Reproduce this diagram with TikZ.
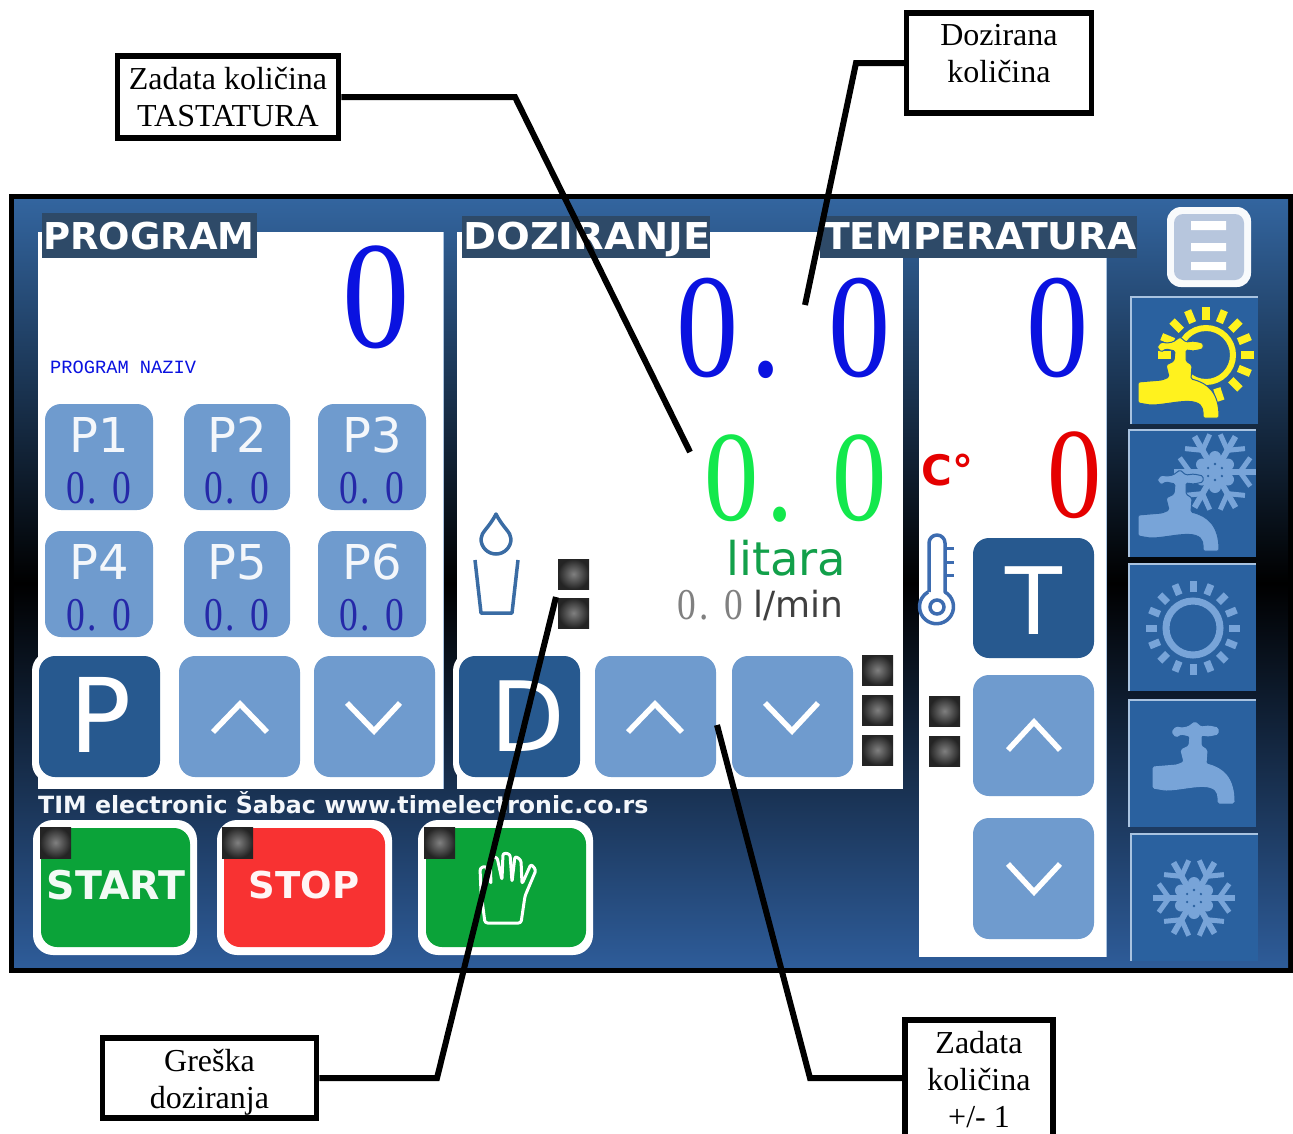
\documentclass[tikz,border=0pt]{standalone}
\usepackage{graphicx}
\usepackage{fontspec}
\setmainfont{Liberation Serif}
\newfontfamily\dv{DejaVu Sans}
\newfontfamily\lm{Liberation Mono}
\newcommand\fnt[1]{\fontsize{#1}{#1}\selectfont}
\definecolor{bgtop}{HTML}{33659F}
\definecolor{bgbot}{HTML}{2E5C99}
\definecolor{btn}{HTML}{6F9BCE}
\definecolor{btndark}{HTML}{27598F}
\definecolor{tile}{HTML}{2A619F}
\definecolor{tileline}{HTML}{A9C3E0}
\definecolor{icon}{HTML}{78A4D8}
\definecolor{lab}{HTML}{2E4A68}
\definecolor{sun}{HTML}{FFF21E}
\definecolor{okgreen}{HTML}{0BA339}
\definecolor{stopred}{HTML}{F83232}
\definecolor{lit}{HTML}{12A04A}
\definecolor{grn}{HTML}{13E84C}
\definecolor{blu}{HTML}{0A12E0}
\definecolor{ddblue}{HTML}{2528A8}
\definecolor{glass}{HTML}{3A6CA4}
\definecolor{therm}{HTML}{3D6CB0}
\definecolor{menu}{HTML}{B7C6DD}
\definecolor{lampin}{HTML}{808080}
\definecolor{lampout}{HTML}{242424}
\tikzset{
  x=1pt,y=-1pt,
  callout/.style={draw=black,line width=5.5pt,fill=white,align=center,font=\fnt{32}\selectfont,inner sep=0pt},
  leader/.style={draw=black,line width=6pt,miter limit=10},
  rbtn/.style={fill=btn,rounded corners=16pt},
  dbtn/.style={fill=btndark,rounded corners=16pt},
  wbtn/.style={fill=white,rounded corners=20pt},
  chev/.style={draw=white,line width=5.5pt},
  lamp/.style={inner color=lampin,outer color=lampout},
  head/.style={text=white,font=\dv\bfseries\fnt{37}\selectfont,inner sep=0pt,anchor=base west},
  pk/.style={text=white!92!btn,font=\dv\fnt{48}\selectfont,inner sep=0pt},
  pv/.style={text=ddblue,font=\fnt{47}\selectfont,inner sep=0pt},
  tileb/.style={fill=tile},
  tilel/.style={draw=tileline,line width=1.5pt},
}
\newcommand\faucet[2]{%
  \fill[#1,draw=#2,line width=1pt,rounded corners=1.5pt]
    (24,67) -- (48,65) -- (55,62) -- (52,50) -- (60,46) -- (61,36) -- (52,34) -- (47,37) -- (43,32) -- (47,27) -- (53,28) -- (59,27)
    -- (66,22) -- (72,27) -- (80,26) -- (89,28) -- (89,34) -- (80,36) -- (72,35) -- (72,46) -- (78,50) -- (77,64)
    .. controls (94,68) and (105,78) .. (105,103) -- (89,103) .. controls (89,97) and (90,90) .. (80,87)
    .. controls (68,85) and (50,90) .. (36,90) -- (24,88) -- cycle;
}
\newcommand\flake[3]{%
  \begin{scope}[shift={(#1,#2)}]
    \foreach \a in {0,60,...,300}{
      \draw[#3,line width=6pt] (0,0) -- ({41*cos(\a)},{41*sin(\a)});
      \draw[#3,line width=5pt] ({25*cos(\a)},{25*sin(\a)}) -- ({38*cos(\a+22)},{38*sin(\a+22)});
      \draw[#3,line width=5pt] ({25*cos(\a)},{25*sin(\a)}) -- ({38*cos(\a-22)},{38*sin(\a-22)});
      \fill[#3] ({15*cos(\a+30)},{15*sin(\a+30)}) circle[radius=6];
    }
    \fill[#3] (0,0) circle[radius=14];
    \foreach \a in {30,90,...,330}{\fill[tile] ({8*cos(\a)},{8*sin(\a)}) circle[radius=1.3];}
  \end{scope}
}
\begin{document}
\begin{tikzpicture}
\useasboundingbox (0,0) rectangle (1293,1133);
\clip (0,0) rectangle (1293,1133);
\fill[white] (0,0) rectangle (1293,1133);
% screen
\fill[black] (9,194) rectangle (1293,973);
\shade[top color=bgtop,bottom color=bgbot,middle color=black] (14,199) rectangle (1288,967);
% panels
\fill[white] (38,232) rectangle (443,789);
\fill[white] (457,232) rectangle (820,789);
\fill[white] (820,258) rectangle (903,789);
\fill[white] (919,258) rectangle (1106,957);
\draw[tileline,line width=1pt] (443,232) -- (443,789) (1106,258) -- (1106,957);
% section headings
\fill[lab] (42,213) rectangle (257,258);
\fill[lab] (462,216) rectangle (710,258);
\fill[lab] (820,216) rectangle (1137,258);
\node[head] (hprog) at (43,249) {PROGRAM};
\node[head] (hdoz) at (463,249) {\scalebox{1.075}[1]{DOZIRANJE}};
\node[head] (htemp) at (824,249) {\scalebox{1.02}[1]{TEMPERATURA}};
% display values
\node[text=blu,font=\fnt{153}\selectfont,inner sep=0pt] (nprog) at (376.5,297.5) {\scalebox{.88}[1]{0}};
\node[text=blu,font=\lm\fnt{18.7}\selectfont,inner sep=0pt,anchor=base west] (pnaziv) at (50,373) {PROGRAM NAZIV};
\node[text=blu,font=\fnt{148}\selectfont,inner sep=0pt] (ndoz) at (784,328.5) {\scalebox{.84}[1]{0\kern14pt.\ \kern19pt 0}};
\node[text=blu,font=\fnt{148}\selectfont,inner sep=0pt] (ntemp) at (1058,328.5) {\scalebox{.84}[1]{0}};
\node[text=grn,font=\fnt{129}\selectfont,inner sep=0pt] (nzad) at (795.5,478.5) {\scalebox{.84}[1]{0\kern9.5pt.\ \kern14.5pt 0}};
\node[text=red!90!black,font=\fnt{129}\selectfont,inner sep=0pt] (nred) at (1075,475) {\scalebox{.84}[1]{0}};
\node[text=red!90!black,font=\dv\bfseries\fnt{42}\selectfont,inner sep=0pt,anchor=base west] (cdeg) at (921,485) {C°};
\node[text=lit,font=\dv\fnt{46.5}\selectfont,inner sep=0pt,anchor=base west] (litara) at (726,575) {litara};
\node[text=black!75,font=\dv\fnt{36}\selectfont,inner sep=0pt,anchor=base west] (lmin) at (753,617) {l/min};
\node[text=gray,font=\fnt{44}\selectfont,inner sep=0pt] (nflow) at (710,605) {\scalebox{.85}[1]{0\kern4pt.\ \kern7pt 0}};
% preset buttons
\foreach \n/\xa/\xb/\ya/\yb in {1/45/153/404/510,2/184/290/404/510,3/318/426/404/510,4/45/153/531/637,5/184/290/531/637,6/318/426/531/637}{
  \fill[rbtn] (\xa,\ya) rectangle (\xb,\yb);
  \pgfmathsetmacro\cx{(\xa+\xb)/2}
  \pgfmathsetmacro\ca{\ya+31}
  \pgfmathsetmacro\cb{\ya+84}
  \node[pk] (pk\n) at (\cx,\ca) {P\n};
  \node[pv] (pv\n) at (\cx,\cb) {\scalebox{.8}[1]{0\kern3pt.\ \kern7pt 0}};
}
% big buttons
\fill[wbtn] (32,651) rectangle (166,783);
\fill[dbtn] (39,656) rectangle (160,777);
\node[text=white,font=\dv\fnt{103}\selectfont,inner sep=0pt] (bp) at (101,715) {P};
\fill[wbtn] (453,651) rectangle (585,783);
\fill[dbtn] (459,656) rectangle (580,777);
\node[text=white,font=\dv\fnt{97}\selectfont,inner sep=0pt] (bd) at (528,716) {D};
\fill[dbtn] (973,538) rectangle (1094,658);
\node[text=white,font=\dv\fnt{93}\selectfont,inner sep=0pt] (bt) at (1034,601) {T};
\foreach \xa/\ya in {179/656,314/656,595/656,732/656,973/675,973/818}{
  \fill[rbtn] (\xa,\ya) rectangle ++(121,121);
}
\draw[chev] (213,732) -- (240,704) -- (267,732);
\draw[chev] (347,703) -- (374,731) -- (400,703);
\draw[chev] (628,732) -- (655,704) -- (682,732);
\draw[chev] (765,703) -- (792,731) -- (818,703);
\draw[chev] (1008,750) -- (1034,722) -- (1060,750);
\draw[chev] (1008,864) -- (1034,892) -- (1060,864);
% lamps
\foreach \xa/\ya in {558/559,558/598,862/655,862/695,862/735,929/696,929/736}{
  \shade[lamp] (\xa,\ya) rectangle ++(31,30);
}
% drop + glass
\draw[glass,line width=3.5pt,line join=round] (496,514) .. controls (489,528) and (481,532) .. (481,539) arc[start angle=180,end angle=0,radius=15] .. controls (511,532) and (503,528) .. (496,514) -- cycle;
\draw[glass,line width=3.5pt,line join=round] (475,560) -- (481,613) -- (512,613) -- (518,560);
% thermometer
\draw[therm,line width=3.5pt,line join=round] (929,592) -- (929,543) arc[start angle=180,end angle=360,radius=8] -- (945,592) arc[start angle=-60,end angle=240,radius=17];
\draw[therm,line width=3.5pt] (937,607) circle[radius=7];
\draw[therm,line width=3pt] (945,548) -- (954,548) (945,562) -- (954,562) (945,575) -- (954,575);
% footer text
\node[text=white!92!btn,font=\dv\bfseries\fnt{23.7}\selectfont,inner sep=0pt,anchor=base west] (foot) at (38,813) {TIM electronic Šabac www.timelectronic.co.rs};
% start / stop / hand
\fill[wbtn] (33,820) rectangle (197,955);
\fill[okgreen,rounded corners=16pt] (41,828) rectangle (190,947);
\fill[wbtn] (217,820) rectangle (392,955);
\fill[stopred,rounded corners=16pt] (224,828) rectangle (385,947);
\fill[wbtn] (418,820) rectangle (593,955);
\fill[okgreen,rounded corners=16pt] (426,828) rectangle (586,947);
\node[text=white!95!okgreen,font=\dv\bfseries\fnt{39.5}\selectfont,inner sep=0pt] (bstart) at (116,885) {START};
\node[text=white!95!stopred,font=\dv\bfseries\fnt{37}\selectfont,inner sep=0pt] (bstop) at (304,885) {STOP};
\draw[white,line width=3pt,line join=round,rounded corners=2.5pt]
  (485,923) -- (521,923) -- (525,896) -- (536,870) -- (531,864) -- (522,884) -- (521,860) -- (515,856) -- (512,882)
  -- (510,854) -- (503,853) -- (502,880) -- (497,857) -- (490,858) -- (491,884) -- (486,866) -- (480,868) -- (481,892) -- cycle;
\foreach \xa in {40,222,424}{\shade[lamp] (\xa,827) rectangle ++(31,31);}
% menu button
\fill[white!95!btn,rounded corners=14pt] (1167,207) rectangle (1251,287);
\fill[menu,rounded corners=9pt] (1174,214) rectangle (1244,280);
\fill[white] (1191,221) rectangle (1226,230) (1191,243) rectangle (1226,251) (1191,262) rectangle (1226,270);
% side tiles
\foreach \xa/\ya in {1131/297,1129/430,1129/564,1129/700,1131/834}{
  \fill[tileb] (\xa,\ya) rectangle ++(127,127);
  \draw[tilel] (\xa,\ya+127) -- (\xa,\ya) -- ++(127,0);
}
% tile 1: yellow sun + tap
\foreach \a in {90,67.5,45,22.5,0,-22.5,-45,-72,112.5,135,157.5,180}{
  \draw[sun,line width=7.5pt] ({1206+35*cos(\a)},{355-35*sin(\a)}) -- ({1206+48*cos(\a)},{355-48*sin(\a)});
}
\draw[sun,line width=6pt] (1206,355) circle[radius=27];
\begin{scope}[shift={(1114,315)}]\faucet{sun}{tile}\end{scope}
% tile 2: tap + snowflake
\flake{1215}{472}{icon}
\begin{scope}[shift={(1114,448)}]\faucet{icon}{tile}\end{scope}
% tile 3: sun
\foreach \a in {0,22.5,...,337.5}{
  \draw[icon,line width=7pt] ({1193+36*cos(\a)},{628-36*sin(\a)}) -- ({1193+47*cos(\a)},{628-47*sin(\a)});
}
\draw[icon,line width=7pt] (1193,628) circle[radius=27];
% tile 4: tap
\begin{scope}[shift={(1129,700)}]\faucet{icon}{icon}\end{scope}
% tile 5: snowflake
\flake{1194}{898}{icon}
% callouts
\node[callout,minimum width=221pt,minimum height=82pt] (c1) at (228,97) {Zadata količina\\[5pt]TASTATURA};
\node[callout,minimum width=185pt,minimum height=100pt] (c2) at (999,63) {Dozirana\\[5pt]količina\\[-12pt]\mbox{}};
\node[callout,minimum width=214pt,minimum height=80pt] (c3) at (209.5,1078) {\rule{0pt}{30pt}Greška\\[5pt]doziranja};
\node[callout,minimum width=148pt,minimum height=120pt] (c4) at (979,1080) {Zadata\\[5pt]količina\\[5pt]+/- 1};
\coordinate (b1) at (515,97);   \coordinate (e1) at (690,452);
\coordinate (b2) at (856,63);   \coordinate (e2) at (805,305);
\coordinate (b3) at (437,1078); \coordinate (e3) at (556,597);
\coordinate (b4) at (810,1078); \coordinate (e4) at (717,725);
\draw[leader] (c1.east) -- (b1) -- (e1);
\draw[leader] (c2.west) -- (b2) -- (e2);
\draw[leader] (c3.east) -- (b3) -- (e3);
\draw[leader] (c4.west |- b4) -- (b4) -- (e4);
\end{tikzpicture}
\end{document}
